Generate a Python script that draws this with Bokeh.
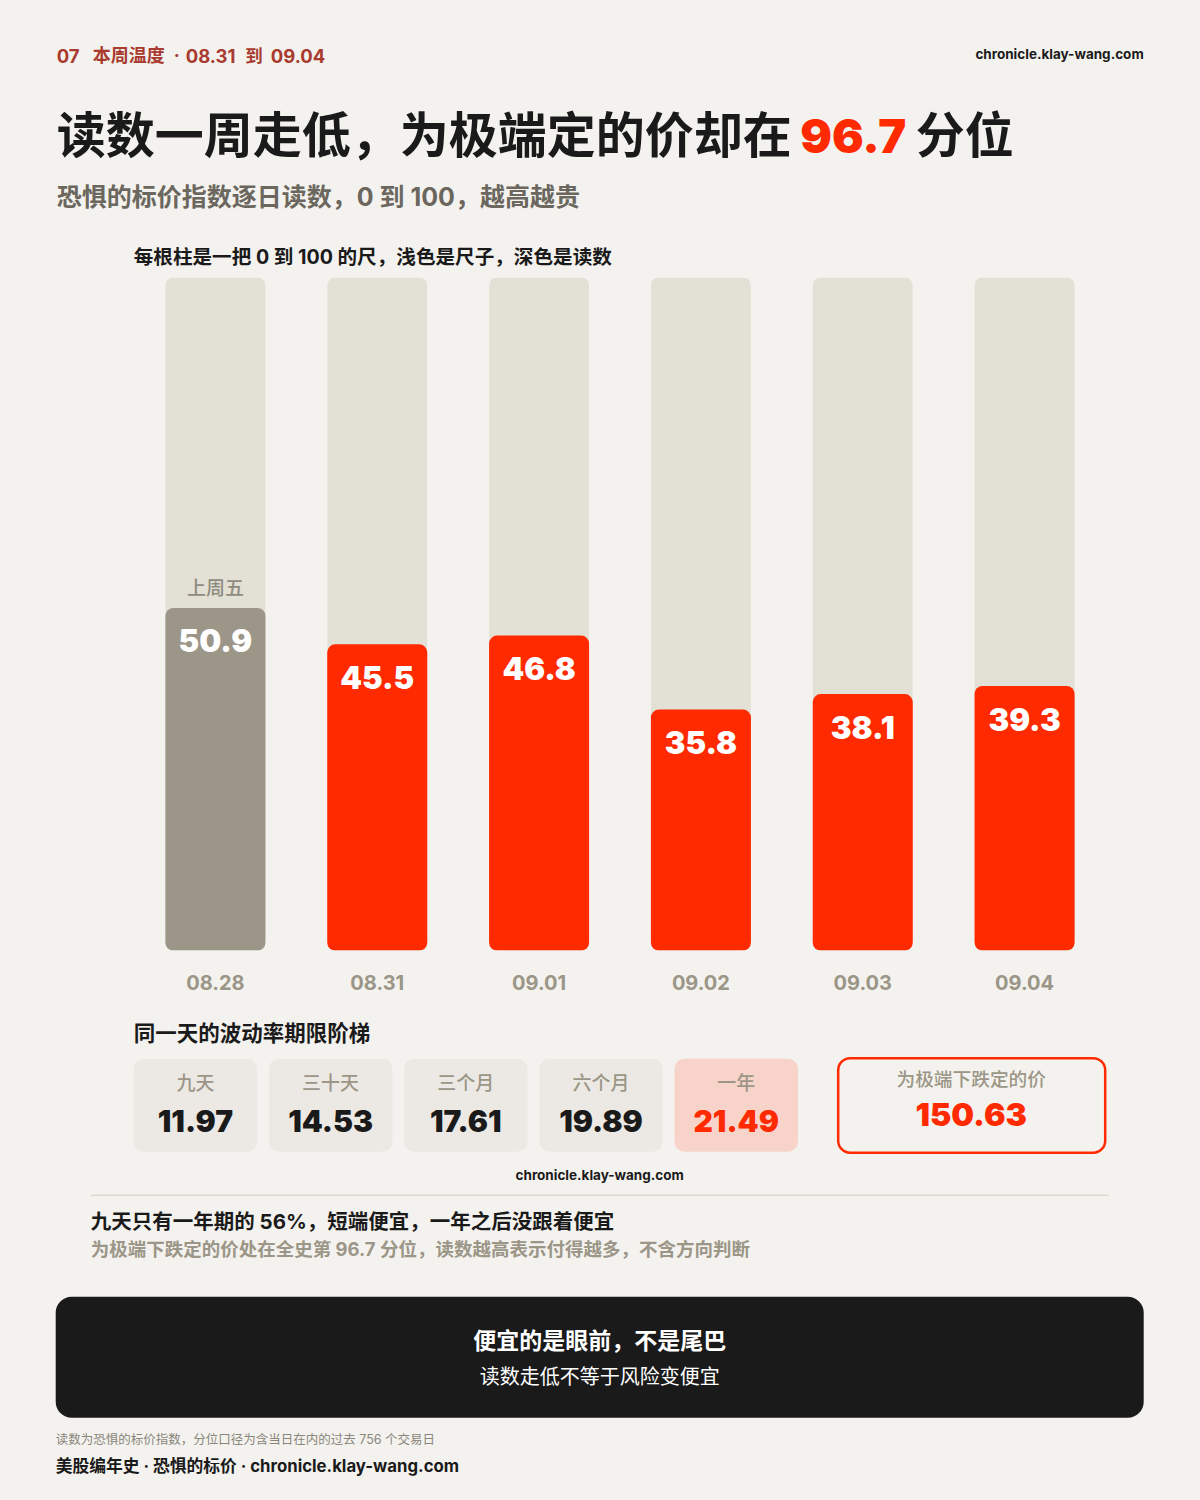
from bokeh.plotting import figure
from bokeh.layouts import column, row
from bokeh.models import Range1d, FactorRange, Spacer
from bokeh.core.properties import value
from bokeh.embed import file_html
from bokeh.resources import INLINE

# ---- data ----
dates = ["08.28", "08.31", "09.01", "09.02", "09.03", "09.04"]
readings = [50.9, 45.5, 46.8, 35.8, 38.1, 39.3]
scale_max = [100, 100, 100, 100, 100, 100]
tenors = ["九天", "三十天", "三个月", "六个月", "一年"]
vols = ["11.97", "14.53", "17.61", "19.89", "21.49"]

BG = "#f4f2ee"
RED = "#ff2a00"
INK = "#1a1a1a"
GREY = "#9b9687"
FONT = "Inter, 'Noto Sans CJK SC'"
HEAVY = "'Inter Black', Inter, 'Noto Sans CJK SC'"
MEDIUM = "'Noto Sans CJK SC Medium', 'Noto Sans CJK SC'"


def canvas(y0, y1):
    # offsets of 0.8 px align the page with the reference's sub-pixel layout
    p = figure(width=1200, height=y1 - y0, x_range=Range1d(0.8, 1200.8), y_range=Range1d(y1 + 0.8, y0 + 0.8),
               x_axis_type=None, y_axis_type=None, output_backend="svg", toolbar_location=None,
               min_border=0, background_fill_color=BG, border_fill_color=BG, outline_line_color=None)
    p.grid.visible = False
    return p


def txt(p, x, y, s, size, color, bold=True, align="left", font=FONT):
    p.text(x=[x], y=[y], text=[s], text_font=value(font), text_font_size=f"{size}px",
           text_color=color, text_font_style="bold" if bold else "normal",
           text_align=align, text_baseline="middle")


# ---- header ----
head = canvas(0, 277)
for x, s, z in [(57, "07", 18.5), (93, "本周温度", 18), (174, "·", 18), (186, "08.31", 18.5),
                (245.5, "到", 17.5), (271, "09.04", 18.5)]:
    txt(head, x, 56, s, z, "#a83a2e")
txt(head, 1144, 54, "chronicle.klay-wang.com", 13.5, INK, align="right")
txt(head, 57, 136, "读数一周走低，为极端定的价却在", 49, INK)
txt(head, 800.5, 136, "96.7", 47, RED, font=HEAVY)
txt(head, 916, 136, "分位", 49, INK)
txt(head, 57, 197, "恐惧的标价指数逐日读数，0 到 100，越高越贵", 25, "#6b675e")
txt(head, 134, 257, "每根柱是一把 0 到 100 的尺，浅色是尺子，深色是读数", 19.6, INK)

# ---- bars ----
chart = figure(width=971, height=733, x_range=FactorRange(*dates, factor_padding=0, range_padding=0),
               y_range=Range1d(0, 100), output_backend="svg", toolbar_location=None,
               min_border_left=0, min_border_right=0, min_border_top=0, min_border_bottom=60,
               background_fill_color=BG, border_fill_color=BG, outline_line_color=None)
chart.grid.visible = False
chart.yaxis.visible = False
ax = chart.xaxis[0]
ax.axis_line_color = None
ax.major_tick_line_color = None
ax.minor_tick_line_color = None
ax.major_label_text_font = FONT
ax.major_label_text_font_size = "20px"
ax.major_label_text_font_style = "bold"
ax.major_label_text_color = GREY
ax.major_label_standoff = 18

W = 0.618
chart.vbar(x=dates, top=scale_max, width=W, fill_color="#e3e1d6", line_color=None, border_radius=8)
colors = [GREY] + [RED] * (len(dates) - 1)
chart.vbar(x=dates, top=readings, width=W, fill_color=colors, line_color=None, border_radius=8)
chart.text(x=dates, y=readings, text=[f"{v:.1f}" for v in readings], text_font=value(HEAVY),
           text_font_size="31px", text_font_style="normal", text_color="white",
           text_align="center", text_baseline="middle", y_offset=33)
chart.text(x=dates[:1], y=readings[:1], text=["上周五"], text_font=value(MEDIUM), text_font_size="19px",
           text_font_style="normal", text_color="#8f8b7e", text_align="center", text_baseline="middle",
           y_offset=-21)

# ---- lower part ----
foot = canvas(1010, 1500)
txt(foot, 134, 1033, "同一天的波动率期限阶梯", 21.5, INK)
for i, (t, v) in enumerate(zip(tenors, vols)):
    last = i == len(tenors) - 1
    x0 = 134 + i * 135.2
    foot.quad(left=[x0], right=[x0 + 123.5], top=[1059], bottom=[1152],
              fill_color="#f7d3ca" if last else "#ece9e4", line_color=None, border_radius=10)
    txt(foot, x0 + 61.7, 1082, t, 19, GREY, bold=False, align="center", font=MEDIUM)
    txt(foot, x0 + 61.7, 1121, v, 30, RED if last else INK, align="center", font=HEAVY)
foot.quad(left=[838.5], right=[1105.5], top=[1058.5], bottom=[1153], fill_color=None,
          line_color=RED, line_width=2.5, border_radius=12)
txt(foot, 971.5, 1078, "为极端下跌定的价", 18.7, GREY, bold=False, align="center", font=MEDIUM)
txt(foot, 971.5, 1115, "150.63", 32, RED, align="center", font=HEAVY)
txt(foot, 600, 1175, "chronicle.klay-wang.com", 13.5, INK, align="center")
foot.segment(x0=[91], x1=[1109], y0=[1195.5], y1=[1195.5], line_color="#dcdad0", line_width=1.5)
txt(foot, 91, 1222, "九天只有一年期的 56%，短端便宜，一年之后没跟着便宜", 20.5, INK)
txt(foot, 91, 1249, "为极端下跌定的价处在全史第 96.7 分位，读数越高表示付得越多，不含方向判断", 18.5, GREY)
foot.quad(left=[56], right=[1144], top=[1297], bottom=[1418], fill_color=INK, line_color=None, border_radius=16)
txt(foot, 600, 1341, "便宜的是眼前，不是尾巴", 23, "white", align="center")
txt(foot, 600, 1377, "读数走低不等于风险变便宜", 20, "white", bold=False, align="center")
txt(foot, 56, 1440, "读数为恐惧的标价指数，分位口径为含当日在内的过去 756 个交易日", 12.5, "#8a867c", bold=False)
txt(foot, 56, 1466.5, "美股编年史 · 恐惧的标价 · chronicle.klay-wang.com", 16.75, INK)

side = {"background-color": BG}
page = column(head,
              row(Spacer(width=134, height=733, styles=side), chart, Spacer(width=95, height=733, styles=side), spacing=0),
              foot, spacing=0)
html = file_html(page, INLINE).replace("<head>", f"<head><style>html,body{{background:{BG}}}</style>", 1)
open("out.html", "w").write(html)
